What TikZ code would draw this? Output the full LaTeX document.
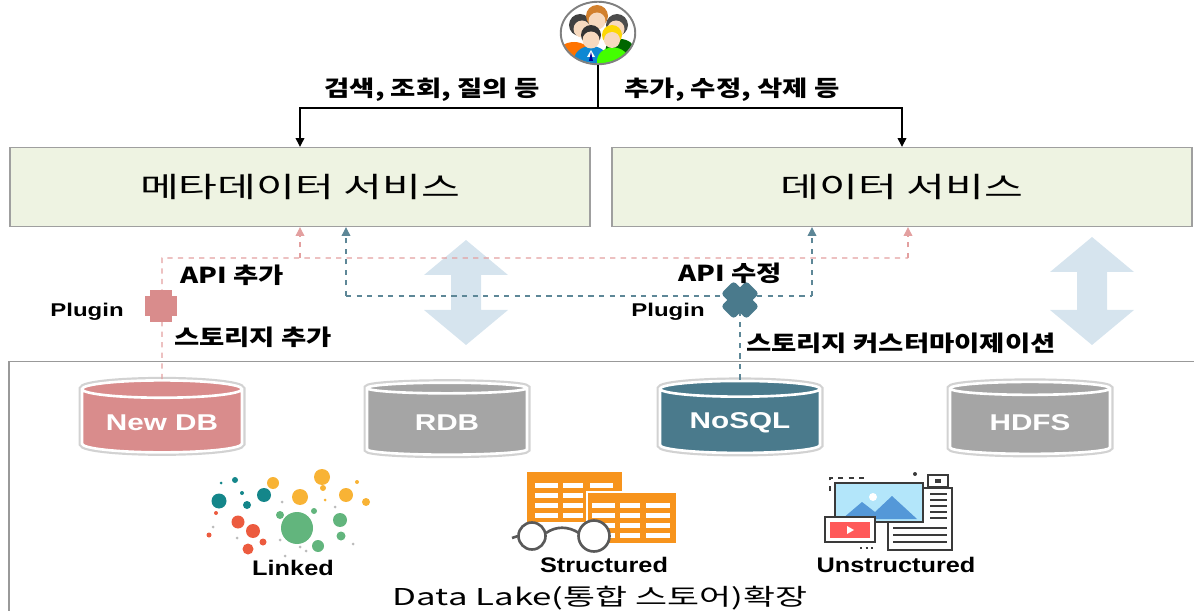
\documentclass[tikz,border=0pt]{standalone}
\usepackage{fontspec}
\setmainfont{Liberation Sans}
\newfontfamily\krwide{Noto Sans CJK KR}[FakeStretch=1.5]
\newfontfamily\krlbl{Noto Sans CJK KR}[FakeStretch=1.25]
\newfontfamily\sanswide{Liberation Sans}[FakeStretch=1.3]
\newfontfamily\sanslbl{Liberation Sans}[FakeStretch=1.2]
\usetikzlibrary{arrows.meta}
\usetikzlibrary{shapes.geometric}
\usetikzlibrary{positioning}

\definecolor{svcgreen}{HTML}{EEF3E2}
\definecolor{dbpink}{HTML}{D98C8C}
\definecolor{dbgray}{HTML}{A5A5A5}
\definecolor{dbblue}{HTML}{4A7A8C}
\definecolor{pinkline}{HTML}{E3A0A0}
\definecolor{blueline}{HTML}{5D8797}
\definecolor{flowblue}{HTML}{D6E4EE}
\definecolor{orng}{HTML}{F7941D}
\definecolor{skin}{HTML}{F7D9BE}
\definecolor{dotteal}{HTML}{14868A}
\definecolor{dotgold}{HTML}{F8B335}
\definecolor{dotgreen}{HTML}{62B57D}
\definecolor{dotred}{HTML}{EC5B3F}
\definecolor{dotgray}{HTML}{BBBBBB}
\definecolor{ink}{HTML}{3A3A3A}

\tikzset{>={Triangle[length=5pt,width=5pt]}}
\tikzset{
  svcbox/.style={draw=gray!75, fill=svcgreen, line width=0.8pt, minimum width=11.6cm, minimum height=1.58cm,
    font=\krwide\fontsize{16}{19}\selectfont},
  dbcyl/.style={cylinder, shape border rotate=90, aspect=0.14, draw=white, line width=1.5pt,
    preaction={draw=gray!35, line width=4pt}, minimum width=3.2cm, minimum height=1.44cm,
    text=white, font=\sanswide\bfseries\fontsize{13}{15}\selectfont},
  lbl/.style={font=\krlbl\bfseries\fontsize{12.5}{15}\selectfont},
  plug/.style={font=\sanswide\bfseries\fontsize{10.5}{13}\selectfont},
  kind/.style={font=\sanslbl\bfseries\fontsize{12}{14}\selectfont},
  pinkdash/.style={draw=pinkline, dashed, line width=0.6pt},
  bluedash/.style={draw=blueline, dashed, line width=0.6pt},
  marker/.style={minimum size=0.6cm, inner sep=0pt}
}

\begin{document}
\begin{tikzpicture}[x=0.02cm, y=-0.02cm]
  \useasboundingbox (0,0) rectangle (1194,611);

  % service boxes
  \node[svcbox] (meta) at (300,187) {메타데이터 서비스};
  \node[svcbox] (datasvc) at (902,187) {데이터 서비스};

  % users
  \node[ellipse, draw=gray, fill=white, line width=0.8pt, minimum width=1.5cm, minimum height=1.26cm] (users) at (598,33) {};
  \begin{scope}
    \clip (users.center) ellipse [x radius=0.73cm, y radius=0.61cm];
    \begin{scope}[shift={(users.center)}]
      % back row
      \fill[orange!90!red] (-24,22) ellipse [x radius=0.34cm, y radius=0.26cm];
      \fill[green!40!black] (22,18) ellipse [x radius=0.3cm, y radius=0.24cm];
      \fill[black!75] (-18,-8) circle [radius=0.22cm];
      \fill[skin] (-16,-4) circle [radius=0.17cm];
      \fill[brown!70!orange] (-1,-17) circle [radius=0.22cm];
      \fill[skin] (-1,-12) circle [radius=0.17cm];
      \fill[black!70] (19,-8) circle [radius=0.22cm];
      \fill[skin] (18,-4) circle [radius=0.17cm];
      % front row
      \fill[cyan!70!blue] (-7,27) ellipse [x radius=0.34cm, y radius=0.28cm];
      \fill[white] (-7,17) -- (-11,24) -- (-3,24) -- cycle;
      \fill[blue!60!black] (-7,19) -- (-9,28) -- (-5,28) -- cycle;
      \fill[black!80] (-7,2) circle [radius=0.2cm];
      \fill[skin] (-7,7) circle [radius=0.17cm];
      \fill[green!65!lime] (15,28) ellipse [x radius=0.32cm, y radius=0.27cm];
      \fill[yellow!75!orange] (14,2) circle [radius=0.2cm];
      \fill[skin] (14,7) circle [radius=0.16cm];
    \end{scope}
  \end{scope}
  \draw[gray, line width=0.8pt] (users.center) ellipse [x radius=0.74cm, y radius=0.62cm];

  % requests from users
  \coordinate (fork) at (598,108);
  \draw[line width=0.7pt] (users.south) -- (fork);
  \draw[line width=0.7pt, ->] (fork) -| (meta.north);
  \draw[line width=0.7pt, ->] (fork) -| (datasvc.north);
  \node[lbl] (query) at (432,90) {검색, 조회, 질의 등};
  \node[lbl] (update) at (732,90) {추가, 수정, 삭제 등};

  % data lake
  \node[draw=gray!80, line width=0.8pt, minimum width=23.84cm, minimum height=5.1cm, inner sep=0pt] (lake) at (605,489) {};
  \node[dbcyl, fill=dbpink] (newdb) at (162,423) {New DB};
  \node[dbcyl, fill=dbgray] (rdb) at (447,423) {RDB};
  \node[dbcyl, fill=dbblue] (nosql) at (740,423) {NoSQL};
  \node[dbcyl, fill=dbgray] (hdfs) at (1030,423) {HDFS};

  % big up/down arrows
  \fill[flowblue] (466,240) -- (508,275) -- (481,275) -- (481,310) -- (508,310) -- (466,345)
    -- (424,310) -- (451,310) -- (451,275) -- (424,275) -- cycle;
  \fill[flowblue] (1092,237) -- (1134,272) -- (1107,272) -- (1107,310) -- (1134,310) -- (1092,345)
    -- (1050,310) -- (1077,310) -- (1077,272) -- (1050,272) -- cycle;

  % new storage plugin
  \coordinate (pinkL) at (162,258);
  \coordinate (pinkR) at (908,258);
  \draw[pinkdash] (newdb.north) -- (pinkL) -- (pinkR);
  \draw[pinkdash, ->] (meta.south |- pinkL) -- (meta.south);
  \draw[pinkdash, ->] (pinkR) -- (pinkR |- datasvc.south);

  % customized storage plugin
  \coordinate (blueL) at (346,296);
  \coordinate (blueR) at (812,296);
  \draw[bluedash] (nosql.north) -- (nosql.north |- blueL);
  \draw[bluedash] (blueL) -- (blueR);
  \draw[bluedash, ->] (blueL) -- (blueL |- meta.south);
  \draw[bluedash, ->] (blueR) -- (blueR |- datasvc.south);

  % plugin markers
  \node[marker] (plugA) at (161,306) {};
  \fill[dbpink] (plugA.center) ++(-16,-10) rectangle ++(32,20);
  \fill[dbpink] (plugA.center) ++(-11,-16) rectangle ++(22,32);
  \node[marker] (plugB) at (740,300) {};
  \begin{scope}[shift={(plugB.center)}, rotate=45]
    \fill[dbblue, rounded corners=2pt] (-18,-9) rectangle (18,9);
    \fill[dbblue, rounded corners=2pt] (-9,-18) rectangle (9,18);
  \end{scope}

  % labels
  \node[lbl] (apiadd) at (232,275) {API 추가};
  \node[plug] (pluginA) at (87,312) {Plugin};
  \node[lbl, anchor=west] (stadd) at (168,337) {스토리지 추가};
  \node[lbl] (apimod) at (730,273) {API 수정};
  \node[plug] (pluginB) at (668,312) {Plugin};
  \node[lbl, anchor=west] (stcust) at (740,343) {스토리지 커스터마이제이션};

  % linked data
  \foreach \x/\y/\r/\c in {221/483/1.5/dotteal, 235/480/3/dotteal, 219/501/7.5/dotteal, 242/493/2/dotteal,
      264/495/7/dotteal, 247/505/4/dotteal,
      273/483/6/dotgold, 322/477/8/dotgold, 300/497/8/dotgold, 323/488/3/dotgold, 346/495/7/dotgold,
      366/502/4/dotgold, 357/482/2/dotgold, 325/500/1.5/dotgold,
      280/515/4/dotgreen, 314/511/3/dotgreen, 340/520/7/dotgreen, 297/528/16/dotgreen, 341/536/4.5/dotgreen,
      318/546/6/dotgreen,
      238/522/6.5/dotred, 253/531/7/dotred, 263/542/3.5/dotred, 248/549/5.5/dotred, 209/535/2.5/dotred,
      216/513/2/dotred,
      213/527/1.5/dotgray, 237/538/1.5/dotgray, 282/502/1.5/dotgray, 280/540/1.5/dotgray, 300/547/1.5/dotgray,
      306/551/1.5/dotgray, 285/556/1.5/dotgray, 353/544/1.5/dotgray, 335/507/1.5/dotgray}
    \fill[\c] (\x,\y) circle [radius=\r*0.02cm];
  \node[kind] (linked) at (293,568) {Linked};

  % structured data
  \fill[orng] (527,472) rectangle (622,522);
  \foreach \y in {483,493,503,513}
    \foreach \x/\w in {535/23,563/20,590/23}
      \fill[white] (\x,\y) rectangle ++(\w,5);
  \filldraw[fill=orng, draw=white, line width=1pt] (587,492) rectangle (677,544);
  \foreach \y in {503,513,523,533}
    \foreach \x/\w in {592/23,620/20,646/24}
      \fill[white] (\x,\y) rectangle ++(\w,5);
  \draw[gray!70!black, line width=1.5pt, fill=white] (532,536) circle [radius=0.27cm];
  \draw[gray!70!black, line width=1.5pt, fill=white] (594,536) circle [radius=0.31cm];
  \draw[gray!70!black, line width=1.5pt] (546,533) .. controls (556,526) and (568,526) .. (579,533);
  \draw[gray!70!black, line width=1.5pt] (518,536) -- (512,538);
  \node[kind] (structured) at (604,565) {Structured};

  % unstructured data
  \draw[ink, line width=1pt, dashed] (830,491) -- (830,478) -- (864,478);
  \fill[ink] (915,474) circle [radius=0.04cm];
  \filldraw[fill=white, draw=ink, line width=1.2pt] (888,488) rectangle (952,550);
  \foreach \y in {494,500,506,512,518}
    \draw[ink, line width=1pt] (930,\y) -- (947,\y);
  \foreach \y in {528,535,542}
    \draw[ink, line width=1pt] (893,\y) -- (947,\y);
  \filldraw[fill=white, draw=ink, line width=1.2pt] (928,475) rectangle (948,487);
  \fill[ink] (935,479) rectangle (941,483);
  \filldraw[fill=cyan!30, draw=ink, line width=1.2pt] (835,483) rectangle (923,522);
  \fill[cyan!60!blue!70] (842,519) -- (862,502) -- (875,512) -- (892,496) -- (917,519) -- cycle;
  \fill[white] (873,497) circle [radius=0.08cm];
  \filldraw[fill=white, draw=ink, line width=1.5pt] (825,517) rectangle (875,542);
  \fill[red!65] (830,522) rectangle (870,538);
  \fill[white] (847,526) -- (847,534) -- (854,530) -- cycle;
  \draw[ink, line width=1.2pt, dotted] (860,548) -- (873,548);
  \node[kind] (unstructured) at (896,565) {Unstructured};

  \node[font=\krwide\fontsize{13.2}{16}\selectfont] (lakename) at (600,598) {Data Lake(통합 스토어)확장};
\end{tikzpicture}
\end{document}
